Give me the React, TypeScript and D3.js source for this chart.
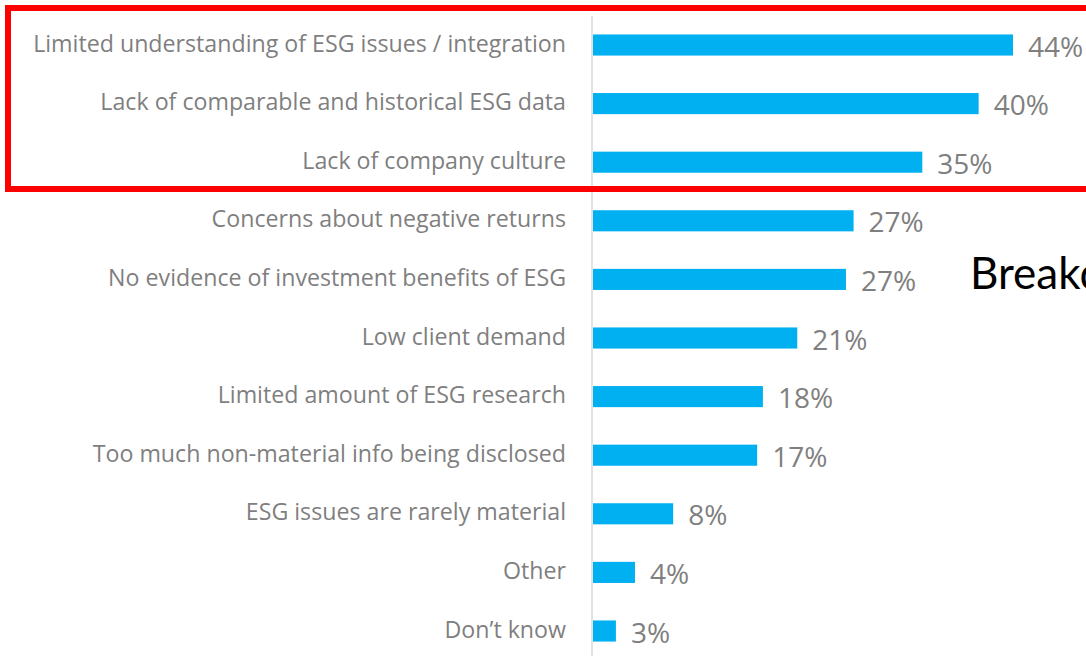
import React, { useEffect, useRef } from 'react'
import * as d3 from 'd3'

// survey reasons, top to bottom
const reasons = [
  'Limited understanding of ESG issues / integration',
  'Lack of comparable and historical ESG data',
  'Lack of company culture',
  'Concerns about negative returns',
  'No evidence of investment benefits of ESG',
  'Low client demand',
  'Limited amount of ESG research',
  'Too much non-material info being disclosed',
  'ESG issues are rarely material',
  'Other',
  'Don\u2019t know',
]
// bar lengths (%)
const shares = [44, 40.4, 34.5, 27.3, 26.5, 21.4, 17.8, 17.2, 8.4, 4.4, 2.4]
// data labels as printed
const shareLabels = ['44%', '40%', '35%', '27%', '27%', '21%', '18%', '17%', '8%', '4%', '3%']

const W = 1086
const H = 656

export default function App() {
  const ref = useRef<SVGSVGElement>(null)

  useEffect(() => {
    const svg = d3.select(ref.current)
    svg.selectAll('*').remove()

    const x = d3.scaleLinear().domain([0, 44]).range([593, 1013])
    const y = d3.scaleBand()
      .domain(reasons)
      .range([15.7, 660.3])
      .paddingInner(0.64)
      .paddingOuter(0.32)

    const rows = svg.selectAll('g.row')
      .data(reasons)
      .enter()
      .append('g')
      .attr('class', 'row')

    rows.append('rect')
      .attr('x', x(0))
      .attr('y', d => y(d))
      .attr('width', (d, i) => x(shares[i]) - x(0))
      .attr('height', y.bandwidth())
      .attr('fill', '#00b0f0')

    rows.append('text')
      .attr('x', 566)
      .attr('y', d => y(d) + y.bandwidth() / 2 + 6.5)
      .attr('text-anchor', 'end')
      .attr('fill', '#7f7f7f')
      .style('font-family', '"Open Sans", sans-serif')
      .style('font-size', '23.2px')
      .text(d => d)

    rows.append('text')
      .attr('x', (d, i) => x(shares[i]) + 15)
      .attr('y', d => y(d) + y.bandwidth() / 2 + 11.5)
      .attr('fill', '#7f7f7f')
      .style('font-family', '"Open Sans", sans-serif')
      .style('font-size', '28px')
      .text((d, i) => shareLabels[i])

    // category axis line
    svg.append('line')
      .attr('x1', 592).attr('x2', 592)
      .attr('y1', 16).attr('y2', H)
      .attr('stroke', '#d9d9d9')
      .attr('stroke-width', 1.5)

    // cut-off slide title
    svg.append('text')
      .attr('x', 970)
      .attr('y', 289)
      .attr('fill', '#000')
      .style('font-family', 'Lato, sans-serif')
      .style('font-size', '44px')
      .text('Breakdown')

    // highlight box round the top three
    svg.append('rect')
      .attr('x', 8)
      .attr('y', 8)
      .attr('width', W)
      .attr('height', 181)
      .attr('fill', 'none')
      .attr('stroke', '#ff0000')
      .attr('stroke-width', 6)
  }, [])

  return (
    <div style={{ position: 'fixed', left: 0, top: 0, width: W, height: H, background: '#fff', overflow: 'hidden' }}>
      <svg ref={ref} width={W} height={H} style={{ display: 'block' }} />
    </div>
  )
}
